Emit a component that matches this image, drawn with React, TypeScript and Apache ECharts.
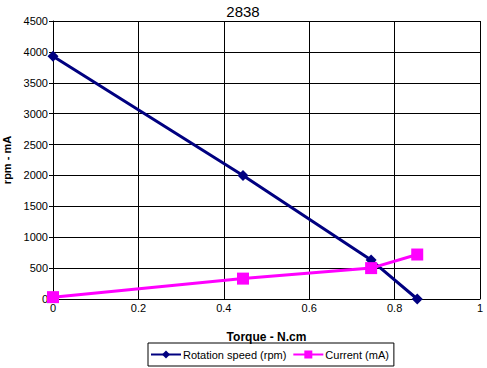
import React, { useEffect, useRef } from "react";
import * as echarts from "echarts";

const torqueSpeed = [0, 0.445, 0.745, 0.853];
const speedRpm = [3930, 2000, 630, 0];
const torqueCurrent = [0, 0.445, 0.745, 0.853];
const currentMa = [30, 330, 500, 720];
const xTicks = [0, 0.2, 0.4, 0.6, 0.8, 1];
const yTicks = [0, 500, 1000, 1500, 2000, 2500, 3000, 3500, 4000, 4500];

export default function App() {
  const ref = useRef<HTMLDivElement>(null);
  useEffect(() => {
    const chart = echarts.init(ref.current!, null, { renderer: "svg" });
    const font = "Liberation Sans, Arial, sans-serif";
    chart.setOption({
      animation: false,
      backgroundColor: "#ffffff",
      title: {
        text: "2838",
        left: 243,
        textAlign: "center",
        top: 4,
        padding: 0,
        textStyle: { fontFamily: font, fontSize: 15, fontWeight: "normal", color: "#000" },
      },
      grid: { left: 53, right: 7, top: 21, bottom: 69, outerBoundsMode: "none", containLabel: false },
      xAxis: {
        type: "value",
        min: xTicks[0],
        max: xTicks[xTicks.length - 1],
        interval: 0.2,
        name: "Torque - N.cm",
        nameLocation: "middle",
        nameGap: 32,
        nameTextStyle: { fontFamily: font, fontSize: 12, fontWeight: "bold", color: "#000" },
        axisLine: { show: true, lineStyle: { color: "#000", width: 1 } },
        axisTick: { show: false },
        axisLabel: { fontFamily: font, fontSize: 11, color: "#000", margin: 3, formatter: (v: number) => String(v) },
        splitLine: { show: true, lineStyle: { color: "#000", width: 1 } },
      },
      yAxis: {
        type: "value",
        min: yTicks[0],
        max: yTicks[yTicks.length - 1],
        interval: 500,
        name: "rpm - mA",
        nameLocation: "middle",
        nameGap: 35,
        nameTextStyle: { fontFamily: font, fontSize: 11, fontWeight: "bold", color: "#000" },
        axisLine: { show: true, lineStyle: { color: "#000", width: 1 } },
        axisTick: { show: true, inside: false, length: 4, lineStyle: { color: "#000" } },
        axisLabel: { fontFamily: font, fontSize: 11, color: "#000", margin: 5, formatter: (v: number) => String(v) },
        splitLine: { show: true, lineStyle: { color: "#000", width: 1 } },
      },
      legend: {
        bottom: 2,
        left: 148,
        itemGap: 6,
        itemWidth: 30,
        itemHeight: 10,
        padding: [6, 5, 6, 2],
        borderColor: "#000",
        borderWidth: 1,
        borderRadius: 0,
        textStyle: { fontFamily: font, fontSize: 11, color: "#000", padding: [0, 0, 0, -3] },
        data: ["Rotation speed (rpm)", "Current (mA)"],
      },
      series: [
        {
          name: "Rotation speed (rpm)",
          type: "line",
          data: torqueSpeed.map((t, i) => [t, speedRpm[i]]),
          symbol: "diamond",
          symbolSize: 11,
          lineStyle: { color: "#000080", width: 3 },
          itemStyle: { color: "#000080" },
        },
        {
          name: "Current (mA)",
          type: "line",
          data: torqueCurrent.map((t, i) => [t, currentMa[i]]),
          symbol: "rect",
          symbolSize: 12,
          lineStyle: { color: "#ff00ff", width: 3 },
          itemStyle: { color: "#ff00ff" },
        },
      ],
    });
    return () => chart.dispose();
  }, []);
  return <div ref={ref} style={{ width: 487, height: 368, position: "absolute", left: 0, top: 0 }} />;
}
